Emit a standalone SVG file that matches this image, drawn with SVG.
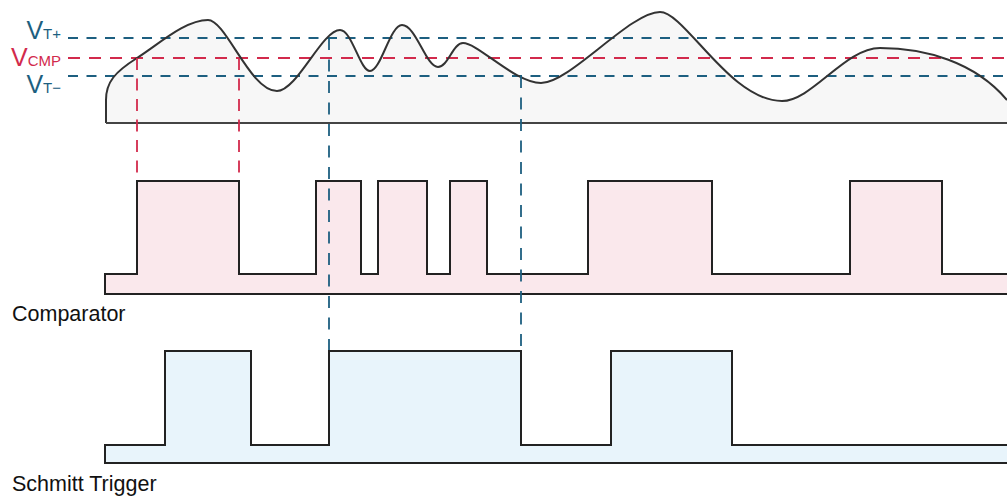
<svg xmlns="http://www.w3.org/2000/svg" width="1007" height="498" viewBox="0 0 1007 498">
  <style>
    .lbl { font-family: "Liberation Sans", Arial, sans-serif; fill: #111; font-size: 21.5px; }
    .vt { font-family: "Liberation Sans", Arial, sans-serif; fill: #1d5f80; }
    .vc { font-family: "Liberation Sans", Arial, sans-serif; fill: #d22a4c; }
    .big { font-size: 25px; }
    .sub { font-size: 15px; }
    .th-blue { stroke: #1d5f80; stroke-width: 1.8; stroke-dasharray: 10 8.5; fill: none; }
    .th-red { stroke: #d22a4c; stroke-width: 1.8; stroke-dasharray: 12 9; fill: none; }
    .drop-blue { stroke: #1d5f80; stroke-width: 1.8; stroke-dasharray: 12 9.5; fill: none; }
    .drop-red { stroke: #d22a4c; stroke-width: 1.8; stroke-dasharray: 12 8.5; fill: none; }
    .wave { stroke: #222; stroke-width: 2; stroke-linejoin: miter; }
    .analog { stroke: #333; stroke-width: 2; fill: none; }
  </style>

  <!-- analog input signal -->
  <g id="input-signal">
    <path fill="#f7f7f7" d="M106,123 L106,100 C106,82 115,72 137,58 C159,44 185,20 208,20 C226,20 250,91 277,91 C297,91 322,30 340,30 C352,30 360,71 370,71 C381,71 390,25 402,25 C416,25 426,67 438,67 C448,67 453,43 463,43 C478,43 515,83 541,83 C570,83 630,12 660,12 C685,12 730,101 782,101 C812,101 845,48 880,48 C925,48 975,62 1007,100 L1007,123 Z"/>
  </g>

  <!-- threshold levels -->
  <g id="thresholds">
    <line class="th-blue" x1="68" y1="38" x2="1007" y2="38"/>
    <line class="th-red" x1="68" y1="58" x2="1007" y2="58"/>
    <line class="th-blue" x1="68" y1="76" x2="1007" y2="76"/>
    <text class="vt big" x="61" y="39" text-anchor="end">V<tspan class="sub">T+</tspan></text>
    <text class="vc big" x="61" y="66" text-anchor="end">V<tspan class="sub">CMP</tspan></text>
    <text class="vt big" x="61" y="93" text-anchor="end">V<tspan class="sub">T−</tspan></text>
  </g>

  <g id="input-curve">
    <path class="analog" d="M106,123 L106,100 C106,82 115,72 137,58 C159,44 185,20 208,20 C226,20 250,91 277,91 C297,91 322,30 340,30 C352,30 360,71 370,71 C381,71 390,25 402,25 C416,25 426,67 438,67 C448,67 453,43 463,43 C478,43 515,83 541,83 C570,83 630,12 660,12 C685,12 730,101 782,101 C812,101 845,48 880,48 C925,48 975,62 1007,100"/>
    <line x1="106" y1="123" x2="1007" y2="123" stroke="#444" stroke-width="2"/>
  </g>

  <!-- comparator output -->
  <g id="comparator">
    <path class="wave" fill="#fae8ec" d="M105,294 V274 H137 V181 H239 V274 H316 V181 H361 V274 H378 V181 H427 V274 H450 V181 H487 V274 H588 V181 H712 V274 H850 V181 H942 V274 H1010 V294 Z"/>
    <text class="lbl" x="12" y="321">Comparator</text>
  </g>

  <!-- schmitt trigger output -->
  <g id="schmitt">
    <path class="wave" fill="#e8f4fb" d="M105,463 V445 H165 V351 H251 V445 H329 V351 H521 V445 H611 V351 H732 V445 H1010 V463 Z"/>
    <text class="lbl" x="12" y="491">Schmitt Trigger</text>
  </g>

  <!-- crossing markers -->
  <g id="connectors">
    <line class="drop-red" x1="137" y1="58" x2="137" y2="180"/>
    <line class="drop-red" x1="239" y1="58" x2="239" y2="180"/>
    <line class="drop-blue" x1="329" y1="38" x2="329" y2="350"/>
    <line class="drop-blue" x1="521" y1="76" x2="521" y2="350"/>
  </g>
</svg>
